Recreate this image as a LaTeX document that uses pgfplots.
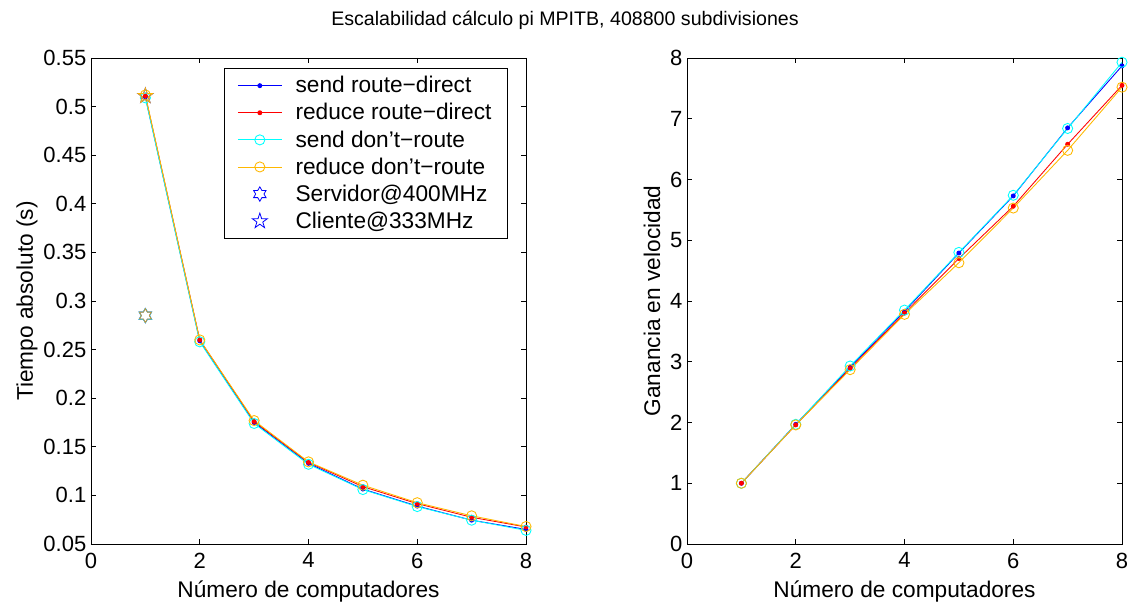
\documentclass[border=0pt]{standalone}
\usepackage{fontspec}
\setmainfont{Liberation Sans}
\usepackage{pgfplots}
\usepackage{pgfplotstable}
\pgfplotsset{compat=1.18}
\usetikzlibrary{plotmarks}

\definecolor{mblue}{rgb}{0,0,1}
\definecolor{mred}{rgb}{1,0,0}
\definecolor{mcyan}{rgb}{0,1,1}
\definecolor{morange}{rgb}{1,0.72,0}

\newcommand\ff{\fontsize{17}{20}\selectfont}
\newcommand\kf{\fontsize{16.5}{19}\selectfont}
\newcommand\tf{\fontsize{14.7}{17}\selectfont}

\pgfdeclareplotmark{penta}{%
  \pgfpathmoveto{\pgfpointpolar{90}{\pgfplotmarksize}}%
  \pgfpathlineto{\pgfpointpolar{126}{0.382\pgfplotmarksize}}%
  \pgfpathlineto{\pgfpointpolar{162}{\pgfplotmarksize}}%
  \pgfpathlineto{\pgfpointpolar{198}{0.382\pgfplotmarksize}}%
  \pgfpathlineto{\pgfpointpolar{234}{\pgfplotmarksize}}%
  \pgfpathlineto{\pgfpointpolar{270}{0.382\pgfplotmarksize}}%
  \pgfpathlineto{\pgfpointpolar{306}{\pgfplotmarksize}}%
  \pgfpathlineto{\pgfpointpolar{342}{0.382\pgfplotmarksize}}%
  \pgfpathlineto{\pgfpointpolar{18}{\pgfplotmarksize}}%
  \pgfpathlineto{\pgfpointpolar{54}{0.382\pgfplotmarksize}}%
  \pgfpathclose\pgfusepathqstroke}
\pgfdeclareplotmark{hexa}{%
  \pgfpathmoveto{\pgfpointpolar{90}{\pgfplotmarksize}}%
  \pgfpathlineto{\pgfpointpolar{120}{0.577\pgfplotmarksize}}%
  \pgfpathlineto{\pgfpointpolar{150}{\pgfplotmarksize}}%
  \pgfpathlineto{\pgfpointpolar{180}{0.577\pgfplotmarksize}}%
  \pgfpathlineto{\pgfpointpolar{210}{\pgfplotmarksize}}%
  \pgfpathlineto{\pgfpointpolar{240}{0.577\pgfplotmarksize}}%
  \pgfpathlineto{\pgfpointpolar{270}{\pgfplotmarksize}}%
  \pgfpathlineto{\pgfpointpolar{300}{0.577\pgfplotmarksize}}%
  \pgfpathlineto{\pgfpointpolar{330}{\pgfplotmarksize}}%
  \pgfpathlineto{\pgfpointpolar{0}{0.577\pgfplotmarksize}}%
  \pgfpathlineto{\pgfpointpolar{30}{\pgfplotmarksize}}%
  \pgfpathlineto{\pgfpointpolar{60}{0.577\pgfplotmarksize}}%
  \pgfpathclose\pgfusepathqstroke}

\pgfplotstableread{
n sr rr sd rd
1 0.510 0.511 0.509 0.512
2 0.259 0.260 0.258 0.260
3 0.175 0.176 0.174 0.177
4 0.133 0.134 0.132 0.1345
5 0.1065 0.109 0.106 0.1105
6 0.089 0.0915 0.0885 0.0925
7 0.0745 0.0775 0.0745 0.079
8 0.065 0.0675 0.064 0.068
}\timetab

\pgfplotstableread{
n sr rr sd rd
1 1 1 1 1
2 1.97 1.96 1.97 1.96
3 2.91 2.89 2.93 2.87
4 3.83 3.80 3.85 3.78
5 4.79 4.70 4.80 4.63
6 5.73 5.56 5.74 5.53
7 6.85 6.58 6.84 6.48
8 7.87 7.55 7.93 7.52
}\speedtab

\pgfplotstableread{
n t
1 0.285
}\servtab
\pgfplotstableread{
n t
1 0.511
}\clitab

\pgfplotsset{
  mstyle/.style={
    scale only axis, width=326.25pt, height=364.5pt,
    xmin=0, xmax=8, xtick={0,2,4,6,8},
    tick align=inside, major tick length=4pt,
    axis line style={line width=0.7pt}, tick style={line width=0.6pt, black},
    /pgf/number format/assume math mode=true,
    tick label style={font=\kf},
    xticklabel style={yshift=-3pt},
    label style={font=\ff},
    xlabel style={at={(0.5,0)}, anchor=center, yshift=-36pt},
    every axis plot/.append style={line width=0.65pt},
  },
  sblue/.style={color=mblue, mark=*, mark size=1.5pt},
  sred/.style={color=mred, mark=*, mark size=1.5pt},
  scyan/.style={color=mcyan, mark=o, mark size=3.8pt},
  sorange/.style={color=morange, mark=o, mark size=3.8pt},
}

\begin{document}
\begin{tikzpicture}
\useasboundingbox (-68.25pt,-46.5pt) rectangle (779.25pt,408pt);
\node[font=\tf] at (355.5pt,393pt) {Escalabilidad cálculo pi MPITB, 408800 subdivisiones};

\begin{axis}[mstyle, at={(0pt,0pt)}, anchor=south west,
  ymin=0.05, ymax=0.55,
  ytick={0.05,0.1,0.15,0.2,0.25,0.3,0.35,0.4,0.45,0.5,0.55},
  yticklabels={0.05,0.1,0.15,0.2,0.25,0.3,0.35,0.4,0.45,0.5,0.55},
  xlabel={Número de computadores},
  ylabel={Tiempo absoluto (s)},
  ylabel style={at={(axis description cs:-0.147,0.5)}, anchor=center},
  legend style={font=\ff, at={(1,1)}, anchor=north east, xshift=-13.5pt, yshift=-7.5pt,
    draw=black, line width=0.7pt, legend cell align=left, row sep=2.5pt,
    inner xsep=10pt, inner ysep=4pt,
    /tikz/every odd column/.append style={column sep=8pt}},
  legend image code/.code={\draw[mark repeat=2,mark phase=2] plot coordinates {(0pt,0pt)(16.5pt,0pt)(33pt,0pt)};},
]
\addplot[sblue] table[x=n,y=sr] {\timetab};
\addlegendentry{send route−direct}
\addplot[sred] table[x=n,y=rr] {\timetab};
\addlegendentry{reduce route−direct}
\addplot[scyan] table[x=n,y=sd] {\timetab};
\addlegendentry{send don’t−route}
\addplot[sorange] table[x=n,y=rd] {\timetab};
\addlegendentry{reduce don’t−route}
\addplot[only marks, color=mblue, mark=hexa, mark size=5.4pt, line width=0.6pt] table[x=n,y=t] {\servtab};
\addlegendentry{Servidor@400MHz}
\addplot[only marks, color=mblue, mark=penta, mark size=6pt, line width=0.6pt] table[x=n,y=t] {\clitab};
\addlegendentry{Cliente@333MHz}
\addplot[forget plot, only marks, color=mcyan, mark=hexa, mark size=5.4pt, line width=0.6pt] table[x=n,y=t] {\servtab};
\addplot[forget plot, only marks, color=morange!80!mblue, mark=hexa, mark size=5.2pt, line width=0.6pt] table[x=n,y=t] {\servtab};
\addplot[forget plot, only marks, color=morange, mark=penta, mark size=6pt, line width=0.6pt] table[x=n,y=t] {\clitab};
\end{axis}

\begin{axis}[mstyle, at={(447pt,0pt)}, anchor=south west,
  ymin=0, ymax=8, ytick={0,1,2,3,4,5,6,7,8},
  xlabel={Número de computadores},
  ylabel={Ganancia en velocidad},
  ylabel style={at={(axis description cs:-0.0805,0.5)}, anchor=center},
]
\addplot[sblue] table[x=n,y=sr] {\speedtab};
\addplot[sred] table[x=n,y=rr] {\speedtab};
\addplot[scyan] table[x=n,y=sd] {\speedtab};
\addplot[sorange] table[x=n,y=rd] {\speedtab};
\end{axis}
\end{tikzpicture}
\end{document}
